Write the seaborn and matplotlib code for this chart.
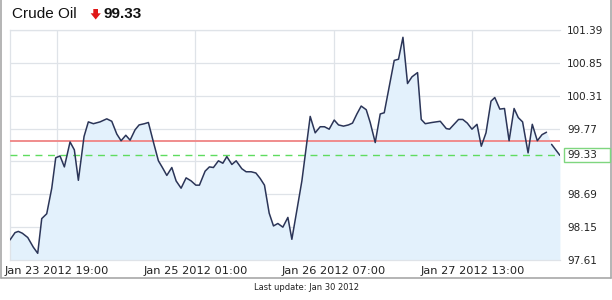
import numpy as np
import pandas as pd
import matplotlib
matplotlib.use("Agg")
import matplotlib.pyplot as plt
import matplotlib.dates as mdates
import matplotlib.transforms as mtransforms
from matplotlib.patches import Polygon, Rectangle
from matplotlib.lines import Line2D
import seaborn as sns

# ---------------- data ----------------
title = "Crude Oil"
last_price = 99.33
ref_price = 99.57
footer = "Last update: Jan 30 2012"
start = pd.Timestamp("2012-01-23 19:00")

# hours after Jan 23 2012 19:00
hours = [-10.12, -9.03, -8.32, -7.45, -6.28, -5.07, -4.12, -3.25, -2.17, -1.08,
         -0.22, 0.71, 1.65, 2.88, 3.81, 4.68, 5.91, 6.84, 7.93, 9.38,
         10.83, 11.91, 13.0, 13.93, 14.95, 15.88, 16.96, 17.83, 18.98, 19.84,
         20.92, 22.01, 22.87, 23.83, 24.91, 25.84, 26.92, 28.01, 29.09, 30.11,
         30.89, 32.12, 33.05, 33.92, 35.0, 35.96, 36.82, 37.91, 38.84, 40.07,
         41.0, 42.09, 43.11, 44.04, 44.97, 45.99, 46.92, 47.87, 48.95, 50.04,
         50.9, 51.99, 53.07, 54.87, 55.95, 57.03, 57.96, 58.98, 60.07, 61.0,
         62.08, 63.16, 64.03, 64.98, 65.91, 67.0, 67.86, 68.95, 70.03, 70.9,
         71.98, 73.06, 73.99, 74.95, 75.94, 76.9, 78.11, 78.91, 79.78, 81.23,
         83.03, 84.33, 85.04, 86.99, 87.9, 88.88, 89.89, 90.98, 91.91, 92.93,
         94.01, 94.83, 95.92, 96.93, 97.93, 99.01, 99.92, 100.85, 102.04, 102.95,
         104.04, 105.06, 106.03, 107.13, 108.93]

prices = [97.94, 98.06, 98.08, 98.05, 97.98, 97.82, 97.72, 98.29, 98.37, 98.79,
          99.29, 99.32, 99.14, 99.55, 99.42, 98.92, 99.64, 99.88, 99.85, 99.88,
          99.93, 99.89, 99.68, 99.57, 99.66, 99.58, 99.75, 99.83, 99.85, 99.87,
          99.55, 99.24, 99.13, 99.00, 99.13, 98.91, 98.79, 98.96, 98.91, 98.84,
          98.84, 99.07, 99.14, 99.13, 99.24, 99.20, 99.31, 99.18, 99.24, 99.11,
          99.06, 99.06, 99.04, 98.95, 98.84, 98.38, 98.17, 98.21, 98.15, 98.31,
          97.95, 98.43, 98.91, 99.97, 99.70, 99.80, 99.80, 99.76, 99.91, 99.83,
          99.81, 99.83, 99.86, 100.01, 100.14, 100.08, 99.87, 99.54, 100.01, 100.03,
          100.46, 100.89, 100.91, 101.27, 100.51, 100.62, 100.69, 99.92, 99.85, 99.87,
          99.89, 99.77, 99.76, 99.92, 99.92, 99.86, 99.76, 99.84, 99.48, 99.70,
          100.22, 100.28, 100.09, 100.10, 99.57, 100.10, 99.95, 99.88, 99.37, 99.84,
          99.57, 99.67, 99.71, 99.51, 99.33]

gap_start_hour = 106.5      # line break (missing data) near the end
ytick_values = [97.61, 98.15, 98.69, 99.23, 99.77, 100.31, 100.85, 101.39]
hidden_ytick = 99.23        # covered by the last-price box in the reference
xtick_hours = [0, 30, 60, 90]
x_range_hours = [-10.12, 108.95]

# ---------------- figure ----------------
sns.set_style("white")
plt.rcParams["font.family"] = ["DejaVu Sans"]

W, H = 612, 300
fig = plt.figure(figsize=(W / 100, H / 100), dpi=100)
fig.patch.set_facecolor("white")
ax = fig.add_axes([10 / W, 40 / H, 550 / W, 230 / H])

df = pd.DataFrame({
    "time": start + pd.to_timedelta(hours, unit="h"),
    "price": prices,
})
df["segment"] = np.where(np.array(hours) < gap_start_hour, 0, 1)

grid_c = "#dfe3e8"
ax.set_ylim(ytick_values[0], ytick_values[-1])
ax.set_xlim(start + pd.Timedelta(hours=x_range_hours[0]),
            start + pd.Timedelta(hours=x_range_hours[1]))

ax.fill_between(df["time"], df["price"], ytick_values[0],
                color="#e3f1fc", lw=0, zorder=1)
sns.lineplot(data=df, x="time", y="price", units="segment", estimator=None,
             color="#2b3558", lw=1.1, ax=ax, legend=False, zorder=4)

ax.axhline(ref_price, color="#f08c8c", lw=1.4, zorder=3)
ax.axhline(last_price, color="#5fdc5f", lw=1.0, ls=(0, (5, 4)), zorder=3)

# grid
ax.set_yticks(ytick_values)
ax.set_yticklabels(["" if v == hidden_ytick else f"{v:.2f}" for v in ytick_values])
ax.set_xticks([start + pd.Timedelta(hours=h) for h in xtick_hours])
ax.xaxis.set_major_formatter(mdates.DateFormatter("%b %d %Y %H:%M"))
ax.grid(True, color=grid_c, lw=0.9, zorder=0)
ax.set_axisbelow(True)
ax.yaxis.tick_right()
ax.tick_params(axis="y", length=0, pad=5, labelsize=7.5, labelcolor="#222222")
ax.tick_params(axis="x", length=0, pad=4, labelsize=8.2, labelcolor="#222222")
ax.set_xlabel("")
ax.set_ylabel("")
for s in ["left", "top", "bottom"]:
    ax.spines[s].set_color(grid_c)
    ax.spines[s].set_linewidth(0.9)
ax.spines["right"].set_visible(False)

# last-price box on the right axis
bt = mtransforms.blended_transform_factory(fig.transFigure, ax.transData)
box_h = 14.3 * (ytick_values[-1] - ytick_values[0]) / 230
fig.add_artist(Rectangle((564 / W, last_price - box_h / 2), 46.0 / W, box_h,
                         transform=bt, facecolor="white", edgecolor="#7fd67f",
                         lw=1.0, zorder=5))
fig.text(567 / W, last_price, f"{last_price:.2f}", transform=bt,
         va="center", ha="left", fontsize=7.5, color="#222222", zorder=6)

# header
fig.text(12 / W, 1 - 14 / H, title, fontsize=11, family="Liberation Sans",
         va="center", ha="left", color="#111111")
arrow_px = [(93.3, 9), (98, 9), (98, 13.3), (100.8, 13.3), (95.7, 19.5),
            (90.6, 13.3), (93.3, 13.3)]
fig.add_artist(Polygon([(x / W, 1 - y / H) for x, y in arrow_px], closed=True,
                       transform=fig.transFigure, facecolor="#e01818",
                       edgecolor="none"))
fig.text(104 / W, 1 - 14 / H, f"{last_price:.2f}", fontsize=11,
         family="Liberation Sans", fontweight="bold", va="center", ha="left",
         color="#111111")

# outer frame
frame_c = "#a8a8a8"
for xs, ys in [([1, 1], [0, 278]), ([610.5, 610.5], [0, 278]),
               ([1, 610.5], [278, 278])]:
    fig.add_artist(Line2D([x / W for x in xs], [1 - y / H for y in ys],
                          transform=fig.transFigure, color=frame_c, lw=1.2))

fig.text(306 / W, 1 - 287 / H, footer, fontsize=6, ha="center", va="center",
         color="#222222")

fig.savefig("out.png", dpi=100, facecolor="white")
